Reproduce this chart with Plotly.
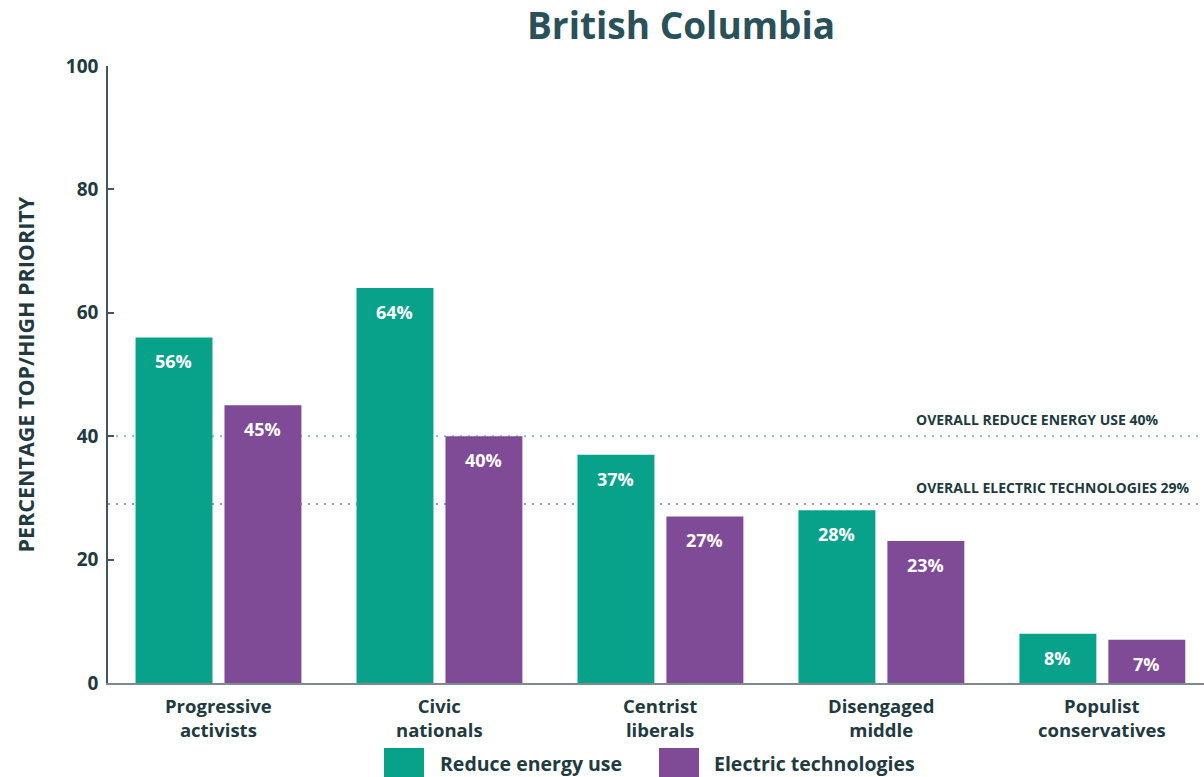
import plotly.graph_objects as go

# Segments and the share rating each policy a top/high priority
segments = ["Progressive<br>activists", "Civic<br>nationals", "Centrist<br>liberals",
            "Disengaged<br>middle", "Populist<br>conservatives"]
reduce_energy = [56, 64, 37, 28, 8]
electric_tech = [45, 40, 27, 23, 7]

overall_reduce = 40
overall_electric = 29

y_ticks = [0, 20, 40, 60, 80, 100]

TEAL = "#08a28b"
PURPLE = "#7f4a96"
DARK = "#213a40"
TITLE_C = "#2a5159"
AXIS_C = "#44565b"
FONT = "Open Sans"

W, H = 1204, 777
L, R, T, B = 108, 0, 66, 94
plot_w = W - L - R
plot_h = H - T - B


def px_x(px):
    """Pixel column -> paper x fraction of the plot area."""
    return (px - L) / plot_w


def px_y(py):
    """Pixel row -> paper y fraction of the plot area."""
    return (H - B - py) / plot_h


fig = go.Figure()
fig.add_trace(go.Bar(x=segments, y=reduce_energy, name="Reduce energy use",
                     marker=dict(color=TEAL, line=dict(width=0)), showlegend=False))
fig.add_trace(go.Bar(x=segments, y=electric_tech, name="Electric technologies",
                     marker=dict(color=PURPLE, line=dict(width=0)), showlegend=False))

annotations = []
# value labels just inside the top of each bar
for vals, shift in ((reduce_energy, -44.5), (electric_tech, 44.5)):
    for seg, v in zip(segments, vals):
        annotations.append(dict(x=seg, y=v, xref="x", yref="y", text=f"<b>{v}%</b>",
                                showarrow=False, xshift=shift, yshift=-24,
                                font=dict(family=FONT, size=18, color="white")))

# category labels under each group
for seg in segments:
    annotations.append(dict(x=seg, y=px_y(717), xref="x", yref="paper",
                            text=f"<b>{seg}</b>", showarrow=False,
                            xanchor="center", yanchor="middle",
                            font=dict(family=FONT, size=18.5, color=DARK)))

# overall reference lines
shapes = []
for val, col in ((overall_reduce, "#7cc4b6"), (overall_electric, "#a993b9")):
    shapes.append(dict(type="line", xref="paper", yref="y", x0=0, x1=1, y0=val, y1=val,
                       line=dict(color=col, width=2, dash="2px,6px"), layer="below"))
annotations.append(dict(x=px_x(914), y=overall_reduce, xref="paper", yref="y",
                        text=f"<b>OVERALL REDUCE ENERGY USE {overall_reduce}%</b>",
                        showarrow=False, xanchor="left", yanchor="bottom", yshift=5,
                        font=dict(family=FONT, size=14, color=DARK)))
annotations.append(dict(x=px_x(914), y=overall_electric, xref="paper", yref="y",
                        text=f"<b>OVERALL ELECTRIC TECHNOLOGIES {overall_electric}%</b>",
                        showarrow=False, xanchor="left", yanchor="bottom", yshift=5,
                        font=dict(family=FONT, size=14, color=DARK)))

# y-axis title
annotations.append(dict(x=px_x(25), y=0.5, xref="paper", yref="paper",
                        text="<b>PERCENTAGE TOP/HIGH PRIORITY</b>", textangle=-90,
                        showarrow=False, xanchor="center", yanchor="middle",
                        font=dict(family=FONT, size=21.5, color=DARK)))

# chart title
annotations.append(dict(x=px_x(681), y=px_y(25), xref="paper", yref="paper",
                        text="<b>British Columbia</b>", showarrow=False,
                        xanchor="center", yanchor="middle",
                        font=dict(family=FONT, size=37, color=TITLE_C)))

# legend drawn as swatches with labels
legend_items = [("Reduce energy use", TEAL, 384, 438), ("Electric technologies", PURPLE, 659, 712)]
for label, col, sx, tx in legend_items:
    shapes.append(dict(type="rect", xref="paper", yref="paper",
                       x0=px_x(sx), x1=px_x(sx + 40), y0=px_y(777), y1=px_y(748),
                       fillcolor=col, line=dict(width=0)))
    annotations.append(dict(x=px_x(tx), y=px_y(763), xref="paper", yref="paper",
                            text=f"<b>{label}</b>", showarrow=False,
                            xanchor="left", yanchor="middle",
                            font=dict(family=FONT, size=19.5, color=DARK)))

fig.update_layout(
    width=W, height=H,
    margin=dict(l=L, r=R, t=T, b=B),
    paper_bgcolor="white", plot_bgcolor="white",
    barmode="group", bargap=0.195, bargroupgap=0.135,
    font=dict(family=FONT, color=DARK),
    shapes=shapes, annotations=annotations,
    xaxis=dict(range=[-0.5, 4.46], showline=True, linecolor="#7d8b8f", linewidth=2,
               ticks="", showgrid=False, zeroline=False, showticklabels=False),
    yaxis=dict(range=[0, 100], tickvals=y_ticks, showline=True, linecolor=AXIS_C,
               linewidth=1.5, ticks="inside", ticklen=6, tickcolor=AXIS_C, tickwidth=1.5,
               showgrid=False, zeroline=False, ticklabelstandoff=4,
               tickfont=dict(family=FONT, size=19, color=DARK, weight="bold")),
)

fig.write_html("out.html")
